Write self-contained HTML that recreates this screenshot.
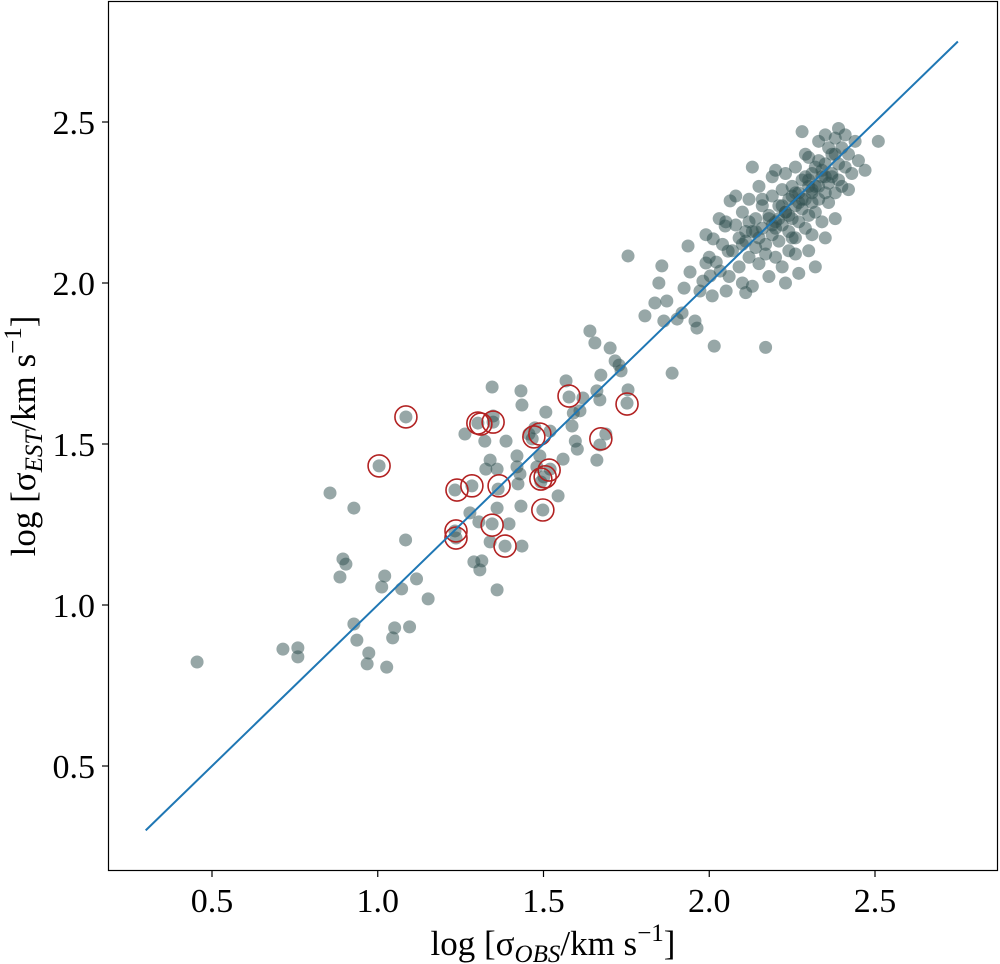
<!DOCTYPE html>
<html><head><meta charset="utf-8"><style>
body{margin:0;background:#fff}
svg{display:block}
text{font-family:"Liberation Serif","DejaVu Serif",serif;fill:#000}
</style></head><body>
<svg id="chart" width="1000" height="964" xmlns="http://www.w3.org/2000/svg">
<rect x="108.5" y="1.5" width="889" height="869" fill="none" stroke="#000" stroke-width="1.2"/>
<g id="marks"></g>
<g id="axes"></g>
<text x="553" y="955" font-size="35" text-anchor="middle">log [σ<tspan font-style="italic" font-size="25" dy="7">OBS</tspan><tspan dy="-7">/km s</tspan><tspan font-size="25" dy="-14">−1</tspan><tspan dy="14">]</tspan></text>
<text transform="translate(35,436) rotate(-90)" font-size="35" text-anchor="middle">log [σ<tspan font-style="italic" font-size="25" dy="7">EST</tspan><tspan dy="-7">/km s</tspan><tspan font-size="25" dy="-14">−1</tspan><tspan dy="14">]</tspan></text>
</svg>
<script>
const xTicks=[0.5,1.0,1.5,2.0,2.5];
const yTicks=[0.5,1.0,1.5,2.0,2.5];
const tickLabels=["0.5","1.0","1.5","2.0","2.5"];
const lineX=[0.3,2.75];
const lineY=[0.3,2.75];
const ptsX=[0.455,0.714,0.759,0.759,0.856,0.886,0.895,0.904,0.928,0.928,0.937,0.973,0.968,1.012,1.021,1.027,1.045,1.051,1.072,1.084,1.096,1.117,1.152,1.004,1.085,
1.233,1.236,1.233,1.263,1.278,1.284,1.290,1.305,1.302,1.314,1.308,1.323,1.326,1.339,1.345,1.348,1.360,1.363,1.360,1.345,1.348,1.339,1.360,1.384,1.387,1.396,1.420,1.420,1.423,1.429,1.432,1.435,1.432,1.435,1.456,1.466,1.474,1.480,1.489,1.492,1.498,1.501,1.507,1.520,1.520,1.544,1.559,1.568,1.577,1.586,1.590,1.596,1.602,1.610,1.619,1.640,1.655,1.661,1.670,1.673,1.670,1.661,1.688,1.701,1.716,1.728,1.734,1.752,1.755,1.755,1.806,1.836,1.848,1.857,1.863,1.872,1.888,1.903,1.918,1.924,1.936,1.942,1.957,1.963,1.972,1.981,1.990,2.003,2.012,2.015,2.009,2.021,2.033,2.048,2.051,2.057,2.063,
2.07,2.08,2.09,2.10,2.10,2.11,2.12,2.12,2.13,2.13,2.14,2.14,2.15,2.15,2.16,2.16,2.17,2.17,2.18,2.18,2.19,2.19,2.20,2.20,2.20,2.21,2.21,2.22,2.22,2.22,2.23,2.23,2.24,2.24,2.24,2.25,2.25,2.26,2.26,2.26,2.27,2.27,2.27,2.28,2.28,2.29,2.29,2.29,2.30,2.30,2.30,2.31,2.31,2.31,2.32,2.32,2.32,2.33,2.33,2.33,2.34,2.34,2.35,2.35,2.35,2.36,2.36,2.37,2.37,2.38,2.38,2.39,2.39,2.39,2.40,2.40,2.41,2.41,2.42,2.43,2.44,2.45,2.47,2.51,2.42,2.36,2.28,2.19,2.13,2.08,2.05,2.04,2.06,2.11,2.23,2.26,2.31,2.38,2.17,2.21,2.25,2.29,2.33,2.16,2.12,2.09,2.25,2.35,2.30,2.03,1.99,2.00,
2.10,2.14,2.18,2.22,2.26,2.30,2.34,2.38,2.15,2.19,2.23,2.27,2.31,2.35,2.11,2.20,2.24,2.28,2.32,2.37];
const ptsY=[0.823,0.863,0.867,0.839,1.348,1.087,1.143,1.127,1.301,0.941,0.891,0.851,0.817,1.056,1.090,0.807,0.898,0.929,1.050,1.202,0.932,1.081,1.019,1.432,1.584,
1.230,1.208,1.357,1.531,1.286,1.370,1.134,1.258,1.565,1.137,1.109,1.509,1.422,1.450,1.252,1.568,1.301,1.360,1.047,1.677,1.587,1.196,1.422,1.183,1.509,1.252,1.463,1.429,1.376,1.407,1.307,1.183,1.665,1.621,1.531,1.516,1.550,1.429,1.463,1.382,1.295,1.398,1.599,1.422,1.540,1.339,1.453,1.696,1.646,1.556,1.596,1.509,1.484,1.603,1.643,1.851,1.814,1.665,1.637,1.714,1.497,1.450,1.531,1.798,1.758,1.745,1.727,1.627,1.668,2.084,1.898,1.938,2.000,2.053,1.882,1.944,1.720,1.888,1.907,1.984,2.115,2.034,1.882,1.860,1.975,2.006,2.062,2.022,2.137,1.804,1.960,2.065,2.037,2.177,1.975,2.099,2.255,
2.10,2.18,2.05,2.22,2.00,2.13,2.26,2.08,2.16,1.99,2.20,2.11,2.30,2.06,2.17,2.24,2.12,1.80,2.21,2.02,2.27,2.15,2.19,2.08,2.35,2.24,2.13,2.29,2.18,2.05,2.22,2.34,2.16,2.26,2.10,2.30,2.20,2.24,2.14,2.36,2.28,2.19,2.03,2.32,2.23,2.26,2.17,2.40,2.30,2.21,2.10,2.34,2.25,2.28,2.36,2.22,2.05,2.30,2.26,2.44,2.33,2.19,2.37,2.28,2.14,2.31,2.25,2.40,2.34,2.45,2.28,2.48,2.37,2.32,2.42,2.30,2.46,2.36,2.40,2.34,2.44,2.38,2.35,2.44,2.29,2.42,2.47,2.33,2.36,2.27,2.19,2.12,2.02,1.97,2.00,2.09,2.15,2.20,2.09,2.20,2.27,2.33,2.38,2.26,2.19,2.14,2.14,2.46,2.39,2.20,2.15,2.08,
2.12,2.16,2.20,2.24,2.28,2.32,2.35,2.40,2.14,2.18,2.22,2.25,2.29,2.33,2.16,2.17,2.21,2.26,2.30,2.33];
const circX=[1.004,1.085,1.239,1.284,1.236,1.236,1.302,1.311,1.348,1.366,1.345,1.384,1.471,1.489,1.498,1.492,1.505,1.517,1.577,1.673,1.752];
const circY=[1.432,1.584,1.357,1.370,1.230,1.208,1.565,1.562,1.568,1.370,1.248,1.183,1.522,1.531,1.295,1.391,1.398,1.419,1.649,1.516,1.624];

const sx=v=>212+(v-0.5)*331.5;
const sy=v=>766-(v-0.5)*322;
const NS="http://www.w3.org/2000/svg";
const marks=document.getElementById('marks'), axes=document.getElementById('axes');
function mk(tag,attrs,parent){const e=document.createElementNS(NS,tag);for(const k in attrs)e.setAttribute(k,attrs[k]);parent.appendChild(e);return e;}
ptsX.forEach((x,i)=>{
  const c=mk('circle',{cx:sx(x),cy:sy(ptsY[i]),r:6.5,fill:'#2f4f4f','fill-opacity':0.5},marks);
  
  
});
circX.forEach((x,i)=>{
  const c=mk('circle',{cx:sx(x),cy:sy(circY[i]),r:11,fill:'none',stroke:'#b22222','stroke-width':1.6},marks);
  
  
});
const ln=mk('line',{x1:sx(lineX[0]),y1:sy(lineY[0]),x2:sx(lineX[1]),y2:sy(lineY[1]),stroke:'#1f77b4','stroke-width':2},marks);


xTicks.forEach((t,i)=>{
  const l=mk('line',{x1:sx(t),x2:sx(t),y1:871,y2:877,stroke:'#000','stroke-width':1.2},axes);
  
  
  const tx=mk('text',{x:sx(t),y:912,'font-size':34,'text-anchor':'middle'},axes);
  tx.textContent=tickLabels[i];
  
  
});
yTicks.forEach((t,i)=>{
  const l=mk('line',{x1:102,x2:108,y1:sy(t),y2:sy(t),stroke:'#000','stroke-width':1.2},axes);
  
  
  const tx=mk('text',{x:95,y:sy(t)+12,'font-size':34,'text-anchor':'end'},axes);
  tx.textContent=tickLabels[i];
  
  
});
</script>
</body></html>
